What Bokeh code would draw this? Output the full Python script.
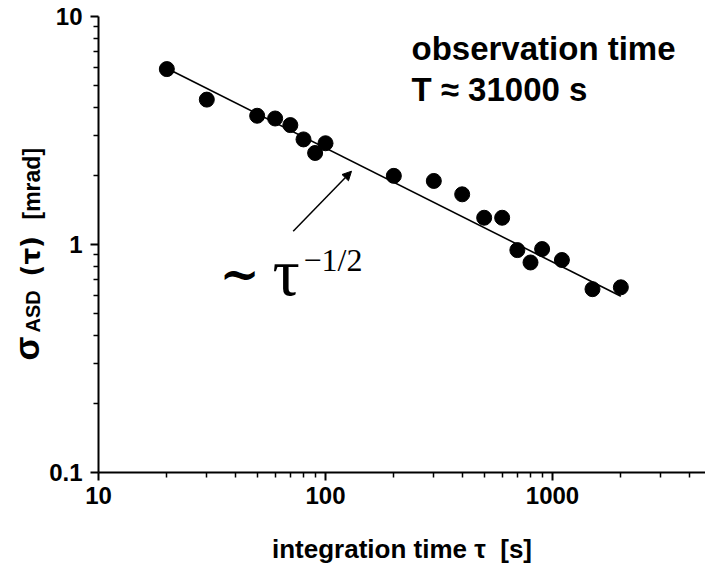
import math
from bokeh.plotting import figure
from bokeh.layouts import row
from bokeh.models import (Label, Arrow, NormalHead, CustomJSTickFormatter, FixedTicker, Range1d)
from bokeh.core.properties import value
from bokeh.embed import file_html
from bokeh.resources import INLINE

# ---- data ----
tau = [20, 30, 50, 60, 70, 80, 90, 100, 200, 300, 400, 500, 600, 700, 800, 900, 1100, 1500, 2000]
sigma = [5.88, 4.32, 3.67, 3.57, 3.34, 2.89, 2.52, 2.78, 2.0, 1.90, 1.66, 1.31, 1.31,
         0.945, 0.834, 0.955, 0.855, 0.637, 0.649]
fit_tau = [21, 2000]
fit_sigma = [5.78, 0.593]
x_major = [10, 100, 1000]
x_minor = [20, 30, 40, 50, 60, 70, 80, 90, 200, 300, 400, 500, 600, 700, 800, 900,
           2000, 3000, 4000]
y_major = [0.1, 1, 10]
y_minor = [0.2, 0.3, 0.4, 0.5, 0.6, 0.7, 0.8, 0.9, 2, 3, 4, 5, 6, 7, 8, 9]

SANS = "Liberation Sans"
SERIF = "Liberation Serif"
MID_SANS = 0.3465   # (ascent - descent) / 2, in em
MID_SERIF = 0.3375
MID_DEJAVU = 0.346

W, H = 705, 572
LW = 46                     # width of the strip holding the y label
L, T, B = 98, 16, 100       # frame position in the page
X0, X1 = 10, 4720
Y0, Y1 = 0.1, 10

p = figure(width=W - LW, height=H, x_axis_type="log", y_axis_type="log",
           x_range=Range1d(X0, X1), y_range=Range1d(Y0, Y1),
           output_backend="svg", toolbar_location=None,
           min_border_left=L - LW, min_border_right=0, min_border_top=T, min_border_bottom=B)
p.outline_line_color = None
p.grid.visible = False
p.background_fill_color = "white"
p.border_fill_color = "white"

fw = W - L
fh = H - T - B


def xd(px):
    return 10 ** (math.log10(X0) + (px - L) / fw * (math.log10(X1) - math.log10(X0)))


def yd(py):
    return 10 ** (math.log10(Y1) - (py - T) / fh * (math.log10(Y1) - math.log10(Y0)))


fmt = CustomJSTickFormatter(code="return String(Number(tick.toPrecision(6)));")
for ax, mj, mn in ((p.xaxis[0], x_major, x_minor), (p.yaxis[0], y_major, y_minor)):
    ax.ticker = FixedTicker(ticks=mj, minor_ticks=mn)
    ax.formatter = fmt
    ax.axis_line_width = 2
    ax.axis_line_color = "black"
    ax.major_tick_line_width = 2
    ax.minor_tick_line_width = 1.5
    ax.major_tick_in = 0
    ax.major_tick_out = 8
    ax.minor_tick_in = 0
    ax.minor_tick_out = 5
    ax.major_label_text_font = SANS
    ax.major_label_text_font_style = "bold"
    ax.major_label_text_font_size = "24px"
    ax.major_label_text_color = "black"

p.xaxis.major_label_standoff = 6
p.yaxis.major_label_standoff = 8
p.xaxis.axis_label = "integration time \u03c4\u00a0\u00a0[s]"
p.xaxis.axis_label_text_font = SANS
p.xaxis.axis_label_text_font_style = "bold"
p.xaxis.axis_label_text_font_size = "26px"
p.xaxis.axis_label_text_color = "black"
p.xaxis.axis_label_standoff = 27

# fit line and data
p.line(fit_tau, fit_sigma, line_color="black", line_width=1.6)
p.scatter(tau, sigma, size=15, marker="circle", fill_color="black", line_color="black")

# arrow
p.add_layout(Arrow(x_start=xd(292.7), y_start=yd(230.7), x_end=xd(351), y_end=yd(170.7),
                   line_color="black", line_width=1.5,
                   end=NormalHead(size=9, fill_color="black", line_color="black")))


def label(px, py_base, text, font, size, mid, style="normal"):
    p.add_layout(Label(x=xd(px), y=yd(py_base - mid * size), text=text, text_font=font,
                       text_font_style=style, text_font_size=f"{size}px",
                       text_color="black", text_baseline="middle", text_align="left"))


# power law annotation
label(219, 290, "~", "DejaVu Serif", 48, MID_DEJAVU, "bold")
label(272, 294, "\u03c4", SERIF, 68, MID_SERIF)
label(303, 270, "\u22121/2", SERIF, 32, MID_SERIF)

# observation time
label(411, 59, "observation time", SANS, 33, MID_SANS, "bold")
label(411, 100, "T \u2248 31000 s", SANS, 33, MID_SANS, "bold")

# ---- y label strip (rotated text); its frame is aligned with the main frame ----
lf = figure(width=LW, height=H, x_range=Range1d(0, LW), y_range=Range1d(H - (T + fh), H - T),
            output_backend="svg", toolbar_location=None,
            min_border=0, x_axis_location=None, y_axis_location=None)
lf.outline_line_color = None
lf.grid.visible = False
lf.border_fill_color = "white"
lf.background_fill_color = "white"

ylab_parts = [
    # text, font, size, baseline x, start y (page px, bottom of the run)
    ("\u03c3", SANS, 35, 38, 360),
    ("ASD", SANS, 20, 39, 332),
    ("(\u03c4)", "DejaVu Sans", 26, 39, 276),
    ("[mrad]", SANS, 23, 39, 219),
]
for txt, font, size, bx, sy in ylab_parts:
    mid = MID_SANS if font == SANS else MID_DEJAVU
    lf.text(x=[bx - mid * size], y=[H - sy], text=[txt], angle=math.pi / 2,
            text_font=value(font), text_font_style="bold", text_font_size=f"{size}px",
            text_color="black", text_baseline="middle", text_align="left")

layout = row(lf, p)
open("out.html", "w").write(file_html(layout, INLINE))
